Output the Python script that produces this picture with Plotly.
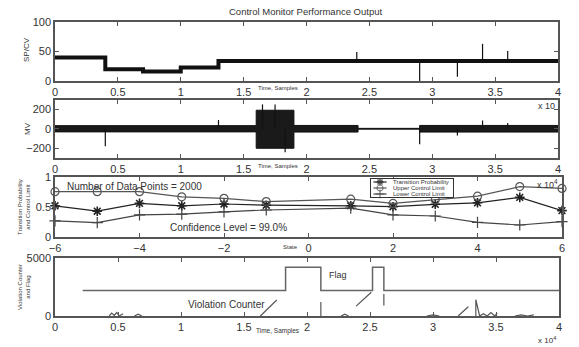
import plotly.graph_objects as go

# ---------------- data ----------------
# Panel 1: SP/CV step levels (time in samples)
sp_t = [0, 4000, 7000, 10000, 13000, 40000]
sp_v = [40, 20, 16, 23, 34, 34]
sp_spike_t = [24000, 29000, 32000, 34000, 36000]
sp_spike_v = [49, 0, 7, 63, 51]

# Panel 2: MV noise envelope (step) and spikes
mv_t = [0, 16000, 19000, 24100, 29000, 40000]
mv_hi = [32, 190, 34, 4, 34, 34]
mv_lo = [-32, -200, -34, -4, -34, -34]
mv_spike_t = [4000, 13000, 16500, 17500, 18300, 29000, 32000, 34000, 36000]
mv_spike_v = [-180, 90, 250, 250, -240, -160, -70, 85, 60]

# Panel 3: transition probability and control limits by state
states = [-6, -5, -4, -3, -2, -1, 1, 2, 3, 4, 5, 6]
prob = [0.52, 0.43, 0.56, 0.52, 0.55, 0.53, 0.52, 0.505, 0.545, 0.57, 0.66, 0.44]
ucl = [0.755, 0.755, 0.755, 0.67, 0.645, 0.59, 0.63, 0.56, 0.62, 0.68, 0.84, 0.81]
lcl = [0.27, 0.24, 0.37, 0.38, 0.42, 0.45, 0.48, 0.37, 0.35, 0.245, 0.20, 0.255]
series_names = ["Transition Probability", "Upper Control Limit", "Lower Control Limit"]

# Panel 4: flag (step) and violation counter segments
flag_t = [2200, 18300, 21100, 25200, 26100, 40000]
flag_v = [2200, 4200, 2200, 4200, 2200, 2200]
cnt_t = [4300, 4500, 4700, 4900, 5100, 5400, None, 6300, 6600, 6900, None,
         16300, 17600, None, 21100, 21100, None, 22700, 23000, 23300, None,
         23900, 25100, None, 26100, 26100, None, 29500, 30000, 30500, None,
         32000, 32800, None, 33400, 33400, 33700, 34000, 34300, 34600, 34900, 35100, None,
         36500, 37000, 37500, 38000]
cnt_v = [0, 250, 50, 300, 0, 200, None, 0, 150, 0, None,
         0, 1380, None, 0, 1200, None, 0, 150, 0, None,
         850, 2050, None, 900, 1900, None, 0, 100, 0, None,
         0, 800, None, 0, 1400, 0, 200, 0, 300, 0, 250, None,
         0, 100, 0, 100]

x_ticks = [0, 5000, 10000, 15000, 20000, 25000, 30000, 35000, 40000]
x_ticktext = ["0", "0.5", "1", "1.5", "2", "2.5", "3", "3.5", "4"]

INK = "#111111"
AXC = "#555555"
FONT = "Liberation Sans, Arial, sans-serif"

styles = [
    dict(line=dict(color="#222222", width=1.2),
         marker=dict(symbol="asterisk-open", size=8, line=dict(color="#222222", width=1.6))),
    dict(line=dict(color="#555555", width=1.2),
         marker=dict(symbol="circle-open", size=8, line=dict(color="#555555", width=1.2))),
    dict(line=dict(color="#444444", width=1.2),
         marker=dict(symbol="cross-thin-open", size=8, line=dict(color="#444444", width=1.2))),
]


def spikes(ts, vs, base):
    xs, ys = [], []
    for t, v, b in zip(ts, vs, base):
        xs += [t, t, None]
        ys += [b, v, None]
    return xs, ys


def level_at(t, steps_t, steps_v):
    val = steps_v[0]
    for st, sv in zip(steps_t, steps_v):
        if t >= st:
            val = sv
    return val


fig = go.Figure()

# Panel 1
fig.add_trace(go.Scatter(x=sp_t, y=sp_v, mode="lines", line=dict(color=INK, width=4, shape="hv"),
                         xaxis="x", yaxis="y"))
sx, sy = spikes(sp_spike_t, sp_spike_v, [level_at(t, sp_t, sp_v) for t in sp_spike_t])
fig.add_trace(go.Scatter(x=sx, y=sy, mode="lines", line=dict(color=INK, width=1.2),
                         xaxis="x", yaxis="y"))

# Panel 2
fig.add_trace(go.Scatter(x=mv_t, y=mv_lo, mode="lines", line=dict(color=INK, width=1, shape="hv"),
                         xaxis="x2", yaxis="y2"))
fig.add_trace(go.Scatter(x=mv_t, y=mv_hi, mode="lines", line=dict(color=INK, width=1, shape="hv"),
                         fill="tonexty", fillcolor="#1a1a1a", xaxis="x2", yaxis="y2"))
mx, my = spikes(mv_spike_t, mv_spike_v, [0] * len(mv_spike_t))
fig.add_trace(go.Scatter(x=mx, y=my, mode="lines", line=dict(color=INK, width=1.2),
                         xaxis="x2", yaxis="y2"))

# Panel 3
for vals, name, st in zip([prob, ucl, lcl], series_names, styles):
    fig.add_trace(go.Scatter(x=states, y=vals, mode="lines+markers", name=name,
                             xaxis="x3", yaxis="y3", cliponaxis=False, **st))

# Panel 3 legend (inset box drawn as a tiny axis)
for i, (name, st) in enumerate(zip(series_names, styles)):
    row = 2.5 - i
    fig.add_trace(go.Scatter(x=[0.03, 0.11, 0.19], y=[row] * 3, mode="lines+markers",
                             line=st["line"],
                             marker=dict(symbol=st["marker"]["symbol"], size=[0, 6, 0],
                                         line=st["marker"]["line"]),
                             xaxis="x5", yaxis="y5", cliponaxis=False))

# Panel 4
fig.add_trace(go.Scatter(x=flag_t, y=flag_v, mode="lines", line=dict(color="#666666", width=1.5, shape="hv"),
                         xaxis="x4", yaxis="y4"))
fig.add_trace(go.Scatter(x=cnt_t, y=cnt_v, mode="lines", line=dict(color="#555555", width=1.2),
                         xaxis="x4", yaxis="y4", connectgaps=False))

W, H = 579, 347


def px_x(p):
    return p / W


def px_y(p):
    return 1 - p / H


common_axis = dict(showline=True, linecolor=AXC, linewidth=1.5, mirror="ticks", ticks="inside",
                   ticklen=4, tickcolor=AXC, showgrid=False, zeroline=False, automargin=False,
                   tickfont=dict(family=FONT, size=11, color="#333333"))

time_x = dict(range=[0, 40000], tickvals=x_ticks, ticktext=x_ticktext, **common_axis)

inset = dict(showline=True, mirror=True, linecolor="#333333", linewidth=1, showticklabels=False,
             ticks="", showgrid=False, zeroline=False, automargin=False)

fig.update_layout(
    width=W, height=H, margin=dict(l=0, r=0, t=0, b=0, autoexpand=False),
    paper_bgcolor="white", plot_bgcolor="white", showlegend=False,
    font=dict(family=FONT, color="#222222"),
    xaxis=dict(domain=[px_x(55), px_x(558)], anchor="y", **time_x),
    yaxis=dict(domain=[px_y(81), px_y(22)], anchor="x", range=[0, 100], tickvals=[0, 50, 100], **common_axis),
    xaxis2=dict(domain=[px_x(55), px_x(558)], anchor="y2", **time_x),
    yaxis2=dict(domain=[px_y(158), px_y(100)], anchor="x2", range=[-300, 295], tickvals=[-200, 0, 200], **common_axis),
    xaxis3=dict(domain=[px_x(55), px_x(562)], anchor="y3", range=[-6, 6], tickvals=[-6, -4, -2, 0, 2, 4, 6], **common_axis),
    yaxis3=dict(domain=[px_y(237), px_y(177)], anchor="x3", range=[0, 1], tickvals=[0, 0.5, 1], **common_axis),
    xaxis4=dict(domain=[px_x(55), px_x(559)], anchor="y4", **time_x),
    yaxis4=dict(domain=[px_y(316), px_y(258)], anchor="x4", range=[0, 5000], tickvals=[0, 5000], **common_axis),
    xaxis5=dict(domain=[px_x(371), px_x(453)], anchor="y5", range=[0, 1], **inset),
    yaxis5=dict(domain=[px_y(197), px_y(179)], anchor="x5", range=[0, 3], **inset),
)

ann = []


def note(text, x, y, size, xanchor="center", yanchor="middle", angle=0, color="#333333"):
    ann.append(dict(text=text, x=px_x(x), y=px_y(y), xref="paper", yref="paper", showarrow=False,
                    xanchor=xanchor, yanchor=yanchor, textangle=angle,
                    font=dict(family=FONT, size=size, color=color)))


note("Control Monitor Performance Output", 305, 11, 9.5)
note("SP/CV", 27, 50, 8, angle=-90)
note("MV", 27, 129, 8, angle=-90)
note("Transition Probability<br>and Control Limit", 24, 207, 6, angle=-90)
note("Violation Counter<br>and Flag", 24, 287, 6, angle=-90)
note("Time, Samples", 256, 88, 6, xanchor="left")
note("Time, Samples", 256, 166, 6, xanchor="left")
note("Time, Samples", 254, 331, 6.5, xanchor="left")
note("State", 290, 247, 6, xanchor="center")
note("x 10<sup>4</sup>", 558, 340, 8, xanchor="right")
note("x 10<sup>4</sup>", 560, 184, 9, xanchor="right")
note("x 10", 557, 106, 9, xanchor="right")
note("Number of Data Points = 2000", 65, 186, 10, xanchor="left")
note("Confidence Level = 99.0%", 168, 227, 10, xanchor="left")
note("Flag", 327, 275, 9, xanchor="left")
note("Violation Counter", 186, 304, 10, xanchor="left")

# legend labels inside the inset box
for i, name in enumerate(series_names):
    ann.append(dict(text=name, x=0.24, y=2.5 - i, xref="x5", yref="y5", showarrow=False,
                    xanchor="left", yanchor="middle", font=dict(family=FONT, size=6, color="#333333")))

fig.update_layout(annotations=ann)

fig.write_html("out.html", config={"displayModeBar": False},
               post_script="document.body.style.margin='0';document.body.style.overflow='hidden';")
